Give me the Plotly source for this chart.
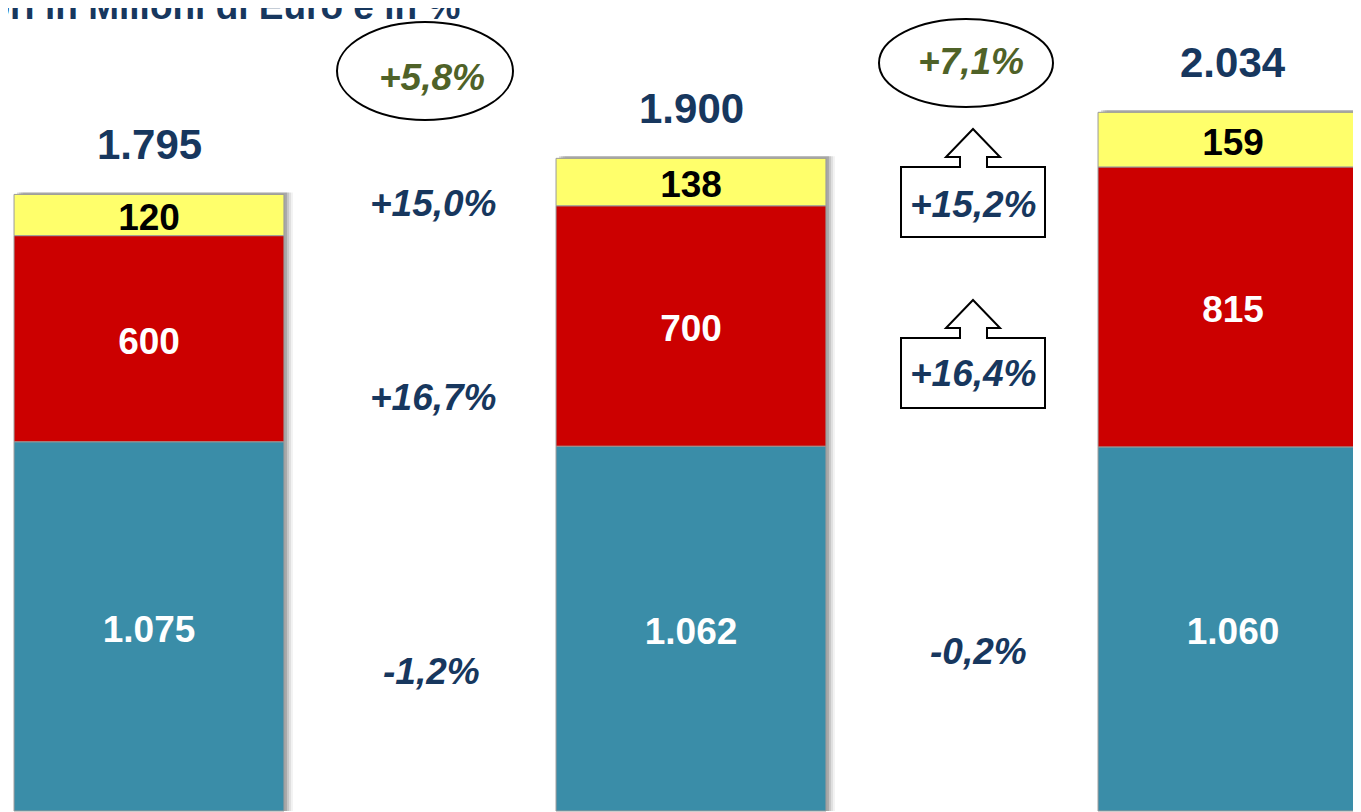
import plotly.graph_objects as go

# ---------------- data ----------------
categories = ["Anno 1", "Anno 2", "Anno 3"]
base_values = [1075, 1062, 1060]   # teal segment
mid_values = [600, 700, 815]       # red segment
top_values = [120, 138, 159]       # yellow segment
title_text = "Valori in Milioni di Euro e in %"

# ---------------- helpers ----------------
W, H = 1361, 812
OFF = 8               # page body margin
FONT = "Liberation Sans, Arial, sans-serif"
NAVY = "#17375E"
GREEN = "#4F6228"
BW = 0.498            # bar width (category units)
PX_X = 542.0          # pixels per category unit
PX_Y = 0.3435         # pixels per value unit
X0 = 149 - OFF        # pixel of first category centre (figure coords)
Y0 = 811 - OFF        # pixel of value 0 (figure coords)
LABEL_DROP = 6        # px: visual centring of in-bar labels


def fmt_int(v):
    return f"{v:,}".replace(",", ".")


def fmt_pct(a, b):
    p = (b / a - 1) * 100
    return f"{p:+.1f}".replace(".", ",") + "%"


def px(x, y):
    """window pixel -> paper coords"""
    return (x - OFF) / W, 1 - (y - OFF) / H


xs = list(range(len(categories)))
totals = [a + b + c for a, b, c in zip(base_values, mid_values, top_values)]

series = [
    ("base", base_values, "#3A8DA8", "white"),
    ("mid", mid_values, "#CC0000", "white"),
    ("top", top_values, "#FFFF6B", "black"),
]

fig = go.Figure()

# soft shadow behind bars
for shift, alpha in [(9, 0.05), (7, 0.08), (5, 0.11), (3, 0.15)]:
    fig.add_trace(go.Bar(
        x=xs, y=[t + 2 / PX_Y for t in totals], base=[0] * len(xs), width=BW,
        offset=-BW / 2 + shift / PX_X,
        marker=dict(color=f"rgba(0,0,0,{alpha})", line=dict(width=0)),
        hoverinfo="skip", showlegend=False))

cum = [0] * len(xs)
label_traces = []
for name, vals, color, tcolor in series:
    fig.add_trace(go.Bar(
        x=xs, y=vals, base=list(cum), width=BW, name=name,
        marker=dict(color=color, line=dict(color="#9A9A9A", width=1)),
        hoverinfo="skip", showlegend=False))
    label_traces.append(go.Scatter(
        x=xs,
        y=[c + v / 2 - LABEL_DROP / PX_Y for c, v in zip(cum, vals)],
        mode="text",
        text=[f"<b>{fmt_int(v)}</b>" for v in vals],
        textfont=dict(family=FONT, size=37, color=tcolor),
        textposition="middle center", hoverinfo="skip", showlegend=False))
    cum = [c + v for c, v in zip(cum, vals)]

for t in label_traces:
    fig.add_trace(t)

annotations = []
# totals above bars
for x, tot in zip(xs, totals):
    annotations.append(dict(
        x=x, y=tot, xref="x", yref="y", yshift=50,
        text=f"<b>{fmt_int(tot)}</b>", showarrow=False,
        xanchor="center", yanchor="middle",
        font=dict(family=FONT, size=42, color=NAVY)))

# growth rates per segment (window pixel positions of the labels)
seg_pos = {
    ("top", 0): (433, 203), ("mid", 0): (433, 397), ("base", 0): (431, 671),
    ("top", 1): (973, 204), ("mid", 1): (973, 373), ("base", 1): (978, 651),
}
for name, vals, _, _ in series:
    for i in range(len(vals) - 1):
        x, y = px(*seg_pos[(name, i)])
        annotations.append(dict(
            x=x, y=y, xref="paper", yref="paper", showarrow=False,
            text=f"<b><i>{fmt_pct(vals[i], vals[i + 1])}</i></b>",
            xanchor="center", yanchor="middle",
            font=dict(family=FONT, size=37, color=NAVY)))

# total growth in ellipses
tot_pos = [(432, 77), (971, 62)]
for i in range(len(totals) - 1):
    x, y = px(*tot_pos[i])
    annotations.append(dict(
        x=x, y=y, xref="paper", yref="paper", showarrow=False,
        text=f"<b><i>{fmt_pct(totals[i], totals[i + 1])}</i></b>",
        xanchor="center", yanchor="middle",
        font=dict(family=FONT, size=37, color=GREEN)))

# cropped title at top
tx, ty = px(462, 7)
annotations.append(dict(
    x=tx, y=ty, xref="paper", yref="paper", showarrow=False,
    text=f"<b>{title_text}</b>", xanchor="right", yanchor="middle",
    font=dict(family=FONT, size=37, color=NAVY)))

shapes = []
# ellipses
for (x0, y0, x1, y1) in [(337, 22, 513, 120), (879, 19, 1053, 107)]:
    a0, b0 = px(x0, y1)
    a1, b1 = px(x1, y0)
    shapes.append(dict(type="circle", xref="paper", yref="paper",
                       x0=a0, y0=b0, x1=a1, y1=b1,
                       line=dict(color="black", width=2)))

# arrow boxes
arrow_pts = [(901, 237), (901, 167), (960, 167), (960, 157), (946, 157),
             (973, 129), (1000, 157), (987, 157), (987, 167), (1045, 167),
             (1045, 237)]
for dy in [0, 171]:
    pts = [px(x, y + dy) for x, y in arrow_pts]
    path = "M " + " L ".join(f"{a:.5f},{b:.5f}" for a, b in pts) + " Z"
    shapes.append(dict(type="path", xref="paper", yref="paper", path=path,
                       fillcolor="white", line=dict(color="black", width=2),
                       layer="below"))

fig.update_layout(
    width=W, height=H,
    margin=dict(l=0, r=0, t=0, b=0),
    barmode="overlay",
    paper_bgcolor="white", plot_bgcolor="white",
    showlegend=False,
    xaxis=dict(range=[-X0 / PX_X, (W - X0) / PX_X], visible=False,
               fixedrange=True),
    yaxis=dict(range=[-(H - Y0) / PX_Y, Y0 / PX_Y], visible=False,
               fixedrange=True),
    annotations=annotations,
    shapes=shapes,
)

fig.write_html("out.html", config={"displayModeBar": False})
